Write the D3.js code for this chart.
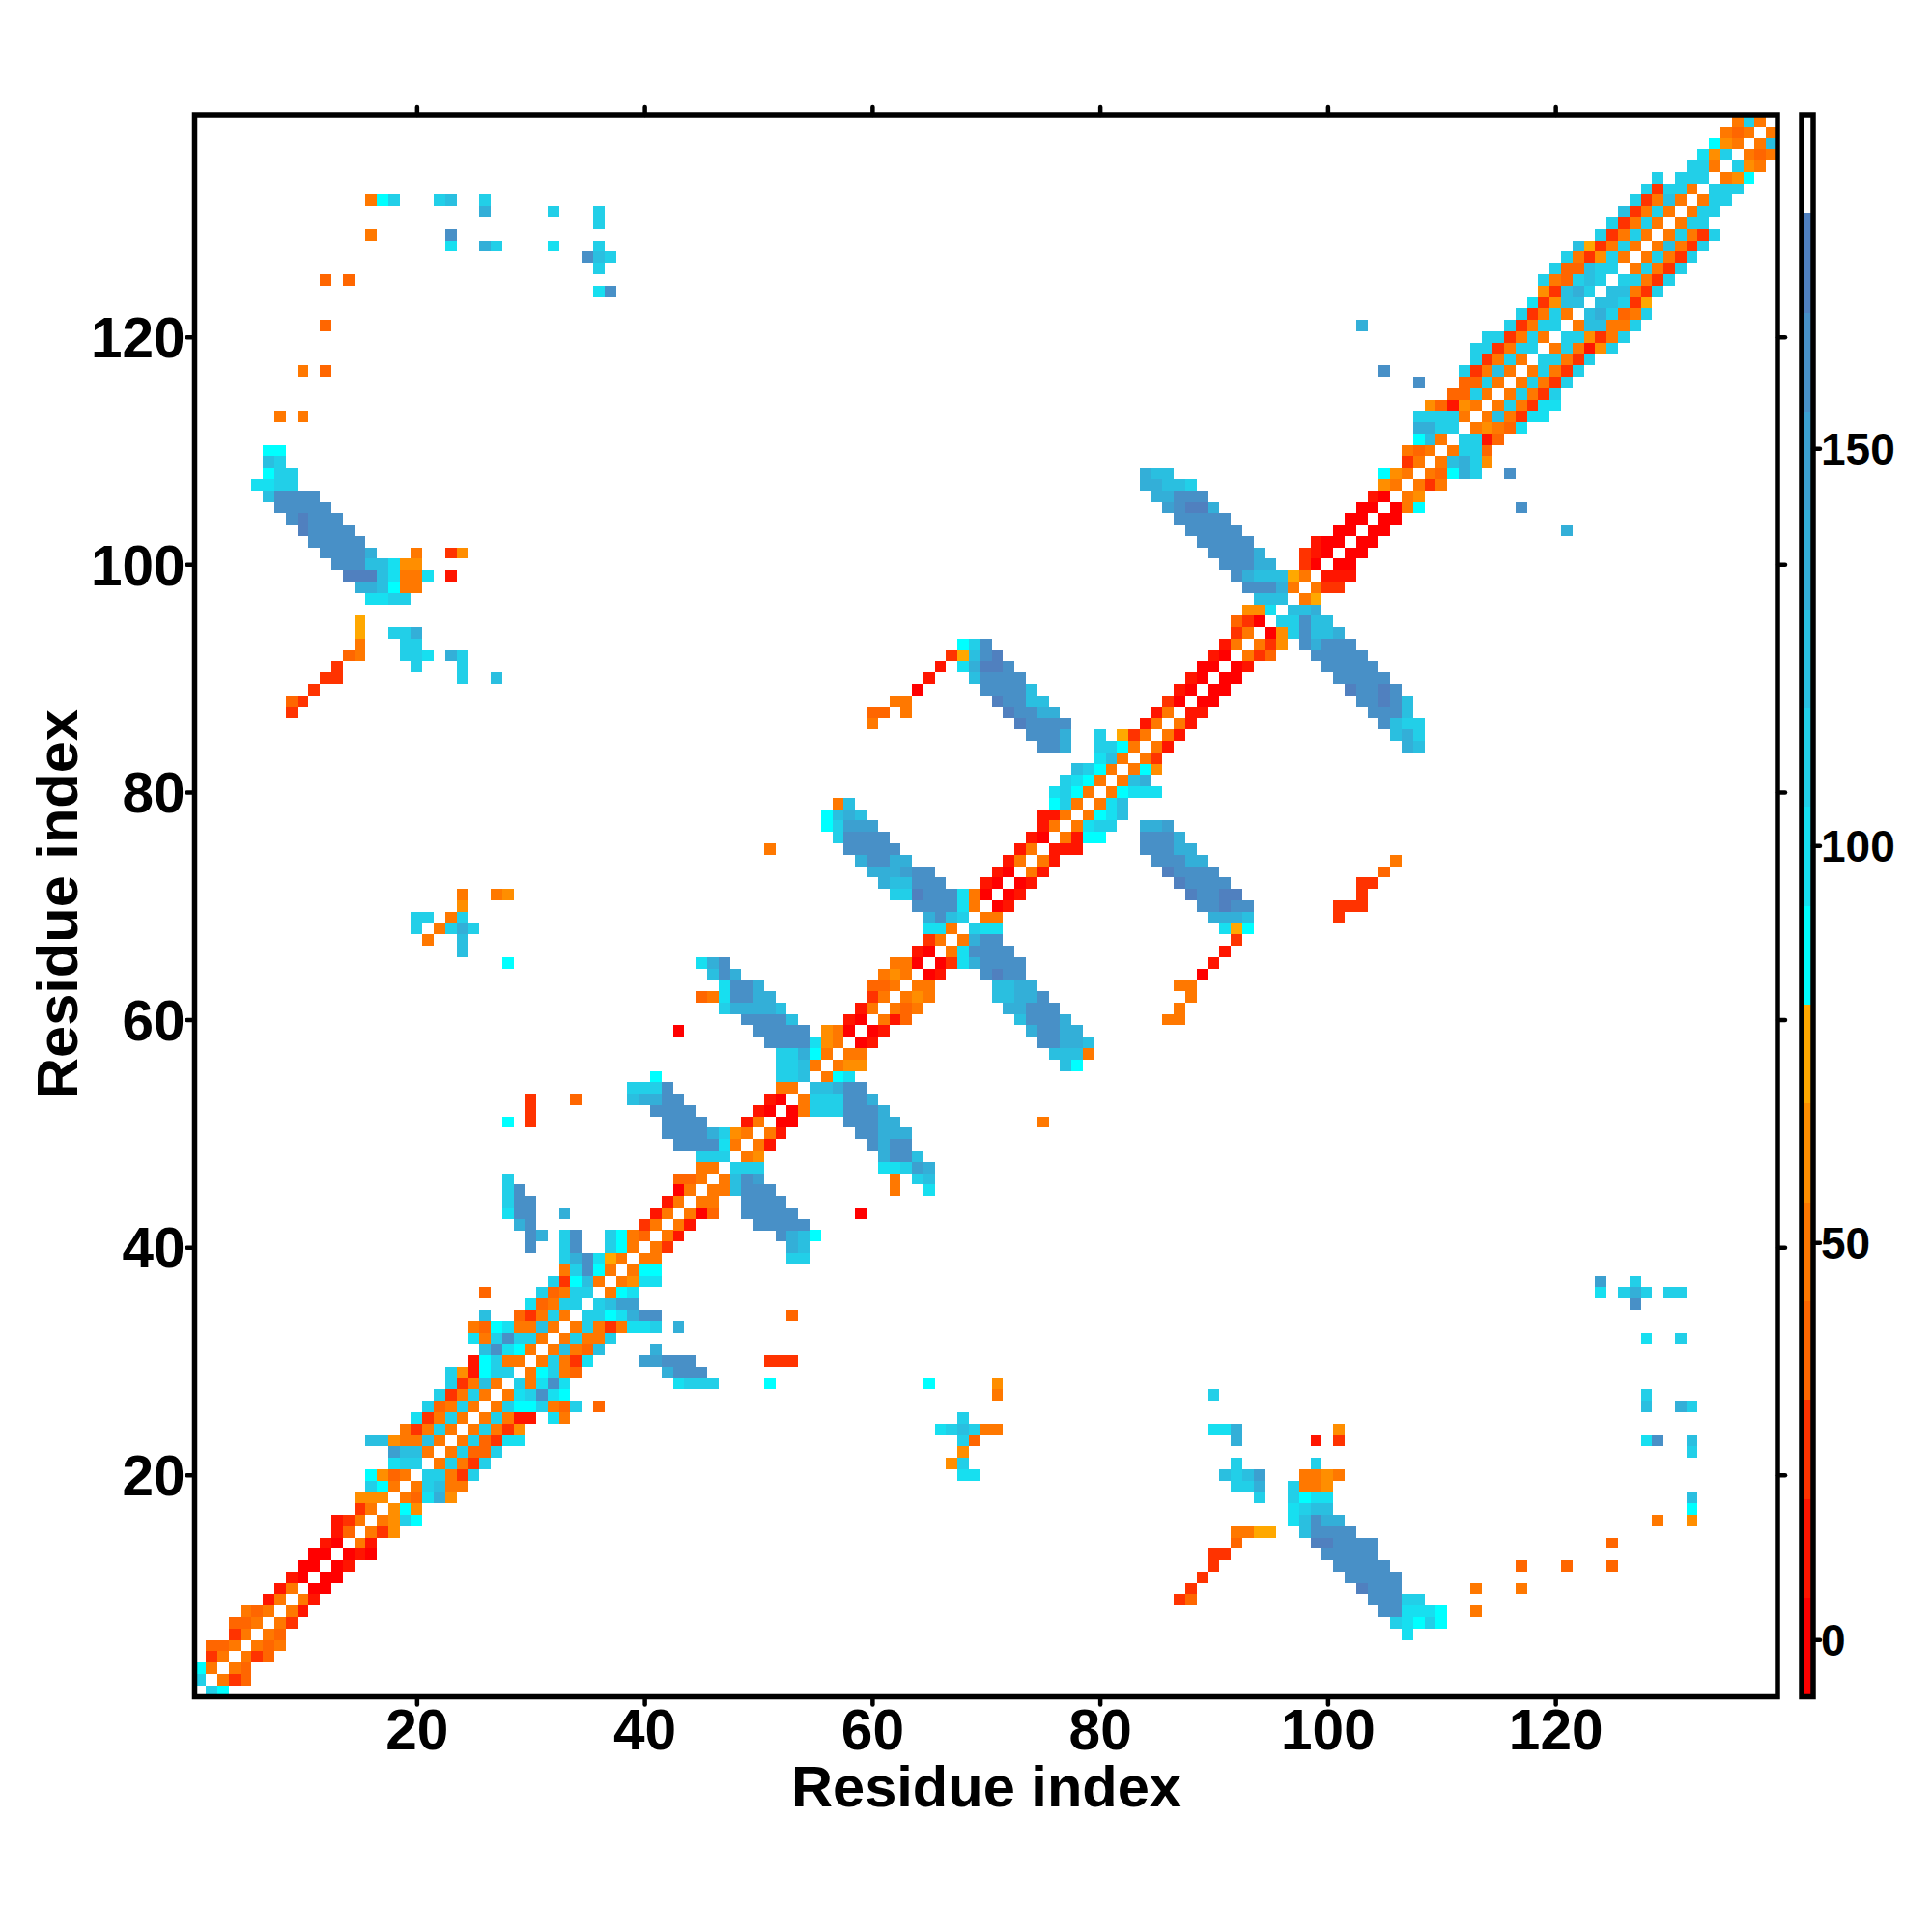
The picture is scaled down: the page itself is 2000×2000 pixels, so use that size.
<!DOCTYPE html>
<html><head><meta charset="utf-8">
<script src="https://cdn.jsdelivr.net/npm/d3@7"></script>
<style>
html,body{margin:0;padding:0;background:#fff}
svg{display:block}
text{font-family:"Liberation Sans",Arial,sans-serif;font-weight:bold;fill:#000}
</style></head><body>
<svg id="c" width="2000" height="2000"></svg>
<script>
// Legend bins, bottom to top; the top bin (white) is never a contact.
const binColors = ["#ff0000","#ff1500","#ff3300","#ff6600","#ff7800","#ff8e00","#ffa800",
  "#00ffff","#17dff0","#22cfe8","#2abfe0","#33afd8","#3ca0d0","#4890c7","#5080bf","#ffffff"];
const colorDomain = [-7.2,192];
// Representative value of each letter used in the contact rows below.
const binValues = [-1,11.5,23.9,36.4,48.8,61.3,73.7,86.2,98.6,111,123.5,136,148.4,160.9,173.3];
const axisTicks = [20,40,60,80,100,120];
const barTicks = [0,50,100,150];
const residues = 139;
// "row|col:bins col:bins" ; a dot means no value in that cell (the diagonal).
const contactRows = [
"1|2:97","2|1:9.423","3|1:74.43","4|2:24.423","5|2:334.434","6|4:24.43 107:8","7|4:334.42 106:98797","8|5:434.41 105:dd8887 113:4","9|7:14.41 87:23 104:ddd99","10|8:14.00 88:2 103:eddd 113:4 117:4",
"11|9:10.00 89:2 102:ddddd","12|10:00.01 90:2 101:ddddd 117:3 121:3 125:3","13|11:00.010 90:22 100:ddddd","14|12:10.41 92:3 99:eedddd 125:3","15|13:13.425 92:4466 98:adddd","16|13:124.4597 97:8adbb 129:4 132:5","17|15:24.575 97:89aa 132:7","18|15:555.438b5 94:9 97:9788 132:a","19|16:974.49a44 92:99b 97:9445","20|16:7534.99429 68:88 91:a9ac 98:4454",
"21|18:899.49429 67:59 92:9 99:9","22|18:caa4.49339 68:5 132:9","23|16:aa544a4.493288 68:93 92:b 99:1 101:2 128:8d 132:a","24|19:42494.49425 66:89a944 90:88b 101:5","25|20:82494.49411.84 68:9","26|21:93494.49779439.3 128:a 131:b9","27|22:92494.489d87 71:4 90:9 128:9","28|23:924a4.948d8 43:89 45:99 51:7 65:7 71:5","29|23:951799.47943 42:bddd","30|25:17944.49428 40:ccddd 51:222",
"31|26:ad874.4a43a 41:b","32|25:849d994.49449 128:8 131:9","33|25:437844a4.49424889 43:b","34|26:a 29:32494.9978bdd 53:3","35|30:83499.9acc 127:d","36|26:3 31:93499.478 124:8 126:9b9 130:99","37|32:927a4.4588 124:c 127:9","38|33:49d74.477","39|33:9bd864.44 53:99","40|30:d 33:9d 37:974.42 53:ba",
"41|30:db 33:9d 37:9743.41 52:dba7","42|29:bd 40:24.41 50:ddddd","43|28:8dd 33:b 41:14.403 49:ddddd 59:0","44|28:9dd 42:14.44 49:dddd","45|28:9d 43:04.44 48:addd 62:4 65:8","46|28:9 43:334.4 48:adc 62:4 64:9a","47|45:44.999 61:889cb","48|45:999.45 61:bdda","49|43:dddd84.41 60:dbdd","50|42:ddddb954.41 59:ddbbb",
"51|28:7 30:2 42:dddd 49:14.00 58:dddbb 75:4","52|30:2 41:dddd 50:10.04999dddb","53|30:2 34:3 39:abbdd 51:10.4999ddb","54|39:999d 52:44.aabdd","55|41:7 52:99a.478","56|52:99a4.455 77:a7","57|52:99b74.44 76:aaa4","58|51:dddd854.01 75:ddbba","59|43:0 50:ddddd 56:540.01 74:bddbb","60|49:dddda 58:10.413 73:adddb 86:44",
"61|47:9bbbba 59:14.434 72:bbddd 87:4","62|45:348ddbb 60:24.454 71:aabbd 88:4","63|47:8ddb 60:334.44 71:aabb 87:44","64|46:adb 61:454.01 70:dedd 89:0","65|28:7 45:8bd 62:440.028bdddd 90:1","66|24:a 64:10.48dddd 91:1","67|21:4 24:a 65:24.4bdd 92:2","68|20:9 22:4 23:9b9 65:884.988 91:867","69|20:99 23:49 65:bda9.44 90:bbba 101:2","70|24:5 64:dddd84.01 89:ddedd 101:222",
"71|24:4 27:45 62:99eddd840.01 88:eddee 103:2","72|61:baaddd 70:10.01 87:edddd 103:22","73|60:bbbcdd 71:10.41 86:edddd 105:3","74|59:bddbb 72:14.41 85:dddbb 106:4","75|51:4 58:ddddd 73:14.111 84:dddbb","76|57:9dddd 74:10.4177 84:dddb","77|56:79ccc 75:14.4899 84:bbc","78|56:7aba 75:114.478a","79|57:4a 76:794.48a","80|76:8974.47888",
"81|77:9874.4ab","82|78:a974.475","83|80:8a4.42","84|75:ddb 80:9974.41 107:ba","85|74:dddb 80:9 82:624.41 106:ab9","86|60:4 73:edddd 84:14.41 105:da99","87|9:2 60:33 63:4 72:eddbb 85:14.11 104:ddda","88|9:32 62:44 71:eddaa 86:20.00 103:ddeda","89|11:2 64:0 70:dddda 87:10.00 102:edded","90|12:22 24:9 27:a 65:1 69:adddd 88:10.00 101:ddddd",
"91|13:2 20:9 24:9 66:1 68:8beed 89:00.01 100:ddddd","92|14:34 19:998 23:b9 67:26ade 90:10.423 99:ddddd","93|15:4 19:99 68:79d 91:14.425 98:dbddd","94|15:6 18:99b 92:24.059daab","95|15:6 92:320.99daa","96|93:558.aab","97|16:8899 94:aaa.46","98|15:bba744 93:dddb4.422","99|14:eeea8448.1 92:dbaaa64.111","100|13:dddaa855 91:dddbb 98:20.00",
"101|12:ddddb 20:4 23:25 90:ddddb 98:210.00","102|11:ddddd 89:ddddd 99:100.00","103|10:edddd 88:ddddd 101:00.00 121:b","104|9:deddd 87:ddddd 102:00.00","105|8:ddddd 86:cdeeb 103:00.047 117:d","106|7:adddd 85:bbddd 104:10.45","107|6:8899 84:bbaa9 105:54.424","108|7:799 84:baa 105:754.437b9 116:d","109|7:a9 107:24.4ab95","110|7:77 107:434.4993",
"111|108:7a4.9913","112|108:bb99.45438","113|8:4 10:4 108:99994.4a4288","114|109:53154.494288","115|111:3394.49429","116|108:d 112:3394.49429","117|10:4 12:3 105:d 112:924a4.49429","118|113:92494.99429","119|113:992499.494159","120|114:992494.995249",
"121|12:3 103:b 116:92499.4aa449","122|117:92494.ab9349","123|118:825aa.aa926","124|36:8d 119:52ab9.aa429","125|12:3 14:3 119:9439a9.99429","126|36:9 120:933a99.49429","127|35:da9 121:942594.49429","128|23:8 26:b9 32:8 36:9 122:a62494.4a429","129|16:4 23:d 124:92494.49429","130|36:9 125:92494.499",
"131|26:b 32:9 36:9 126:a2494.499","132|16:479 22:9a 26:9 127:924a4.499","133|128:92994.999","134|129:9 131:999.457","135|132:994.954","136|133:859.434","137|134:754.4a","138|135:434.4","139|136:494"
];

const plot = {left:201.5,right:1840,top:119,bottom:1756.5};
const x = d3.scaleLinear().domain([0.5,residues+0.5]).range([plot.left,plot.right]);
const y = d3.scaleLinear().domain([0.5,residues+0.5]).range([plot.bottom,plot.top]);
const color = d3.scaleQuantize().domain(colorDomain).range(binColors);
const cellSize = x(2)-x(1);
const cells = [];
contactRows.forEach(r=>{
  const [row,rest] = r.split("|");
  rest.split(" ").forEach(seg=>{
    const [start,bins] = seg.split(":");
    Array.from(bins).forEach((b,k)=>{
      if(b===".")return;
      cells.push({row:+row,col:+start+k,value:binValues[parseInt(b,16)]});
    });
  });
});
const svg = d3.select("#c");
svg.append("rect").attr("width",2000).attr("height",2000).attr("fill","#fff");
svg.append("g").selectAll("rect").data(cells).join("rect")
  .attr("x",d=>x(d.col-0.5)).attr("y",d=>y(d.row+0.5))
  .attr("width",cellSize).attr("height",cellSize)
  .attr("fill",d=>color(d.value)).attr("shape-rendering","crispEdges");

function styleAxis(g,fs){
  g.select(".domain").remove();
  g.selectAll("line").attr("stroke","#000").attr("stroke-width",4.5).attr("stroke-linecap","round");
  g.selectAll("text").style("font-size",fs+"px").attr("fill","#000");
}
const tl=8;
svg.append("g").attr("transform",`translate(0,${plot.bottom})`)
  .call(d3.axisBottom(x).tickValues(axisTicks).tickSize(tl).tickPadding(9)).call(styleAxis,58.5)
  .selectAll("text").attr("dy",null).attr("y",54);
svg.append("g").attr("transform",`translate(0,${plot.top})`)
  .call(d3.axisTop(x).tickValues(axisTicks).tickSize(tl).tickFormat("")).call(styleAxis,58);
svg.append("g").attr("transform",`translate(${plot.left},0)`)
  .call(d3.axisLeft(y).tickValues(axisTicks).tickSize(tl).tickPadding(3)).call(styleAxis,58.5)
  .selectAll("text").attr("dy","0.355em").attr("x",-10);
svg.append("g").attr("transform",`translate(${plot.right},0)`)
  .call(d3.axisRight(y).tickValues(axisTicks).tickSize(tl).tickFormat("")).call(styleAxis,58);
svg.append("rect").attr("x",plot.left).attr("y",plot.top)
  .attr("width",plot.right-plot.left).attr("height",plot.bottom-plot.top)
  .attr("fill","none").attr("stroke","#000").attr("stroke-width",5.5);

svg.append("text").attr("x",1021).attr("y",1870).attr("text-anchor","middle").style("font-size","59.6px").text("Residue index");
svg.append("text").attr("transform","translate(80,936) rotate(-90)").attr("text-anchor","middle").style("font-size","59.6px").text("Residue index");

// Colour bar
const bar = {left:1865,right:1877};
const barY = d3.scaleLinear().domain(colorDomain).range([plot.bottom,plot.top]);
const edges = [colorDomain[0]].concat(color.thresholds(),[colorDomain[1]]);
svg.append("g").selectAll("rect").data(binColors).join("rect")
  .attr("x",bar.left).attr("width",bar.right-bar.left)
  .attr("y",(d,i)=>barY(edges[i+1])).attr("height",(d,i)=>barY(edges[i])-barY(edges[i+1]))
  .attr("fill",d=>d).attr("shape-rendering","crispEdges");
svg.append("rect").attr("x",bar.left).attr("y",plot.top)
  .attr("width",bar.right-bar.left).attr("height",plot.bottom-plot.top)
  .attr("fill","none").attr("stroke","#000").attr("stroke-width",5.5);
svg.append("g").attr("transform",`translate(${bar.right},0)`)
  .call(d3.axisRight(barY).tickValues(barTicks).tickSize(7).tickPadding(5)).call(styleAxis,46)
  .selectAll("text").attr("dy","0.355em").attr("x",8);
</script></body></html>
